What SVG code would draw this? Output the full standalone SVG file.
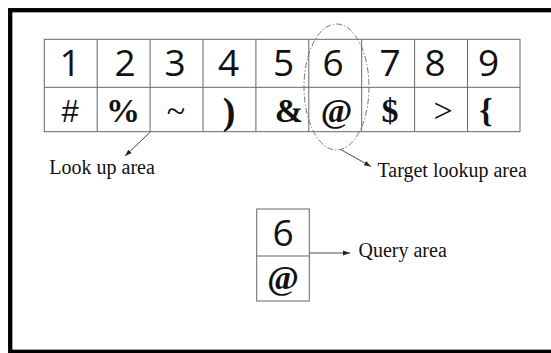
<svg xmlns="http://www.w3.org/2000/svg" width="551" height="353" viewBox="0 0 551 353">
  <defs>
    <marker id="arrow" viewBox="0 0 10 10" refX="10" refY="5" markerWidth="7" markerHeight="7" markerUnits="userSpaceOnUse" orient="auto">
      <path d="M0,1.5 L10,5 L0,8.5 Z" fill="#222"/>
    </marker>
  </defs>
  <style>
    .frame { fill: none; stroke: #000; stroke-width: 4.3; }
    .grid { fill: none; stroke: #666; stroke-width: 1; }
    .digit { font-family: "Open Sans", "Liberation Sans", sans-serif; font-size: 37px; fill: #111; text-anchor: middle; }
    .sym { font-family: "Liberation Serif", serif; font-size: 34px; fill: #111; text-anchor: middle; }
    .symb { font-family: "Liberation Serif", serif; font-size: 34px; font-weight: bold; fill: #111; text-anchor: middle; }
    .hash { font-family: "Liberation Sans", sans-serif; font-size: 31px; fill: #111; text-anchor: middle; }
    .label { font-family: "Liberation Serif", serif; font-size: 20px; fill: #111; }
    .conn { fill: none; stroke: #333; stroke-width: 0.9; }
    .region { fill: none; stroke: #777; stroke-width: 1; stroke-dasharray: 6 2 1.5 2; }
  </style>

  <rect x="0" y="0" width="551" height="353" fill="#fff"/>
  <rect class="frame" x="10.2" y="10.2" width="560" height="341.6"/>

  <!-- lookup table: digits row over symbols row -->
  <g id="lookup-table">
    <rect class="grid" x="44.3" y="39.3" width="475.7" height="92.4"/>
    <line class="grid" x1="44.3" y1="87.3" x2="520" y2="87.3"/>
    <line class="grid" x1="97.2" y1="39.3" x2="97.2" y2="131.7"/>
    <line class="grid" x1="150.1" y1="39.3" x2="150.1" y2="131.7"/>
    <line class="grid" x1="203" y1="39.3" x2="203" y2="131.7"/>
    <line class="grid" x1="255.9" y1="39.3" x2="255.9" y2="131.7"/>
    <line class="grid" x1="308.8" y1="39.3" x2="308.8" y2="131.7"/>
    <line class="grid" x1="361.7" y1="39.3" x2="361.7" y2="131.7"/>
    <line class="grid" x1="414.6" y1="39.3" x2="414.6" y2="131.7"/>
    <line class="grid" x1="467.5" y1="39.3" x2="467.5" y2="131.7"/>

    <text class="digit" x="70" y="76">1</text>
    <text class="digit" x="125" y="76">2</text>
    <text class="digit" x="175" y="76">3</text>
    <text class="digit" x="228.5" y="76">4</text>
    <text class="digit" x="283.5" y="76">5</text>
    <text class="digit" x="333" y="76">6</text>
    <text class="digit" x="390" y="76">7</text>
    <text class="digit" x="435" y="76">8</text>
    <text class="digit" x="488.5" y="76">9</text>

    <text class="hash" x="70" y="121.5">#</text>
    <text class="symb" x="123" y="121.5">%</text>
    <text class="sym" x="176" y="121.5">~</text>
    <text class="symb" x="229" y="124" style="font-size:38px">)</text>
    <text class="symb" x="289" y="121.5">&amp;</text>
    <text class="symb" x="336.5" y="121.5">@</text>
    <text class="symb" x="390" y="121.5">$</text>
    <text class="sym" x="443" y="121.5">&gt;</text>
    <text class="symb" x="486" y="122">{</text>
  </g>

  <!-- dash-dot outline around column 6 -->
  <g id="target-region">
    <ellipse class="region" cx="336.5" cy="87" rx="32.5" ry="63"/>
  </g>

  <!-- query cell -->
  <g id="query-cell">
    <rect class="grid" x="256.7" y="209" width="52.6" height="92"/>
    <line class="grid" x1="256.7" y1="256" x2="309.3" y2="256"/>
    <text class="digit" x="283" y="246">6</text>
    <text class="symb" x="283" y="289">@</text>
  </g>

  <g id="label-lookup">
    <text class="label" x="49.3" y="174">Look up area</text>
  </g>
  <g id="label-target">
    <text class="label" x="377.5" y="176.5">Target lookup area</text>
  </g>
  <g id="label-query">
    <text class="label" x="358.5" y="257">Query area</text>
  </g>

  <g id="connectors">
    <line class="conn" x1="150.7" y1="131.7" x2="125" y2="156" marker-end="url(#arrow)"/>
    <line class="conn" x1="341.5" y1="150" x2="371" y2="166.5" marker-end="url(#arrow)"/>
    <line class="conn" x1="309.3" y1="253" x2="350" y2="253" marker-end="url(#arrow)"/>
  </g>
</svg>
